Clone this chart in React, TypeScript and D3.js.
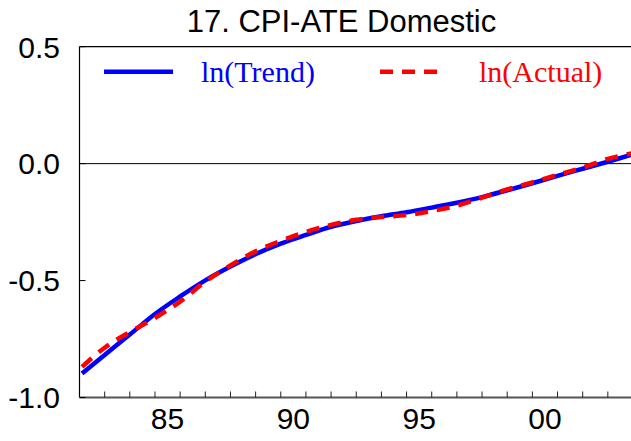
import React from "react";
import * as d3 from "d3";

const title = "17. CPI-ATE Domestic";
const years = [1982.1, 1983, 1984, 1985, 1986, 1987, 1988, 1989, 1990, 1991, 1992, 1993, 1994, 1995, 1996, 1997, 1998, 1999, 2000, 2001, 2002, 2003, 2004];
const trend = [-0.897, -0.818, -0.731, -0.643, -0.568, -0.499, -0.44, -0.387, -0.342, -0.305, -0.27, -0.245, -0.225, -0.208, -0.188, -0.167, -0.143, -0.114, -0.084, -0.052, -0.022, 0.008, 0.04];
const actual = [-0.869, -0.787, -0.72, -0.66, -0.59, -0.505, -0.435, -0.375, -0.33, -0.292, -0.262, -0.24, -0.228, -0.22, -0.203, -0.18, -0.145, -0.11, -0.08, -0.048, -0.017, 0.02, 0.045];
const yTicks = [0.5, 0.0, -0.5, -1.0];
const xLabelYears = [1985, 1990, 1995, 2000];
const xLabels = ["85", "90", "95", "00"];
const legendLabels = ["ln(Trend)", "ln(Actual)"];

const W = 631, H = 441;
const L = 79.5, R = 633, T = 46.7, B = 397.5;

export default function App() {
  const x = d3.scaleLinear().domain([1982, 2004]).range([L, R]);
  const y = d3.scaleLinear().domain([-1, 0.5]).range([B, T]);
  const line = d3.line<number>().x((_, i) => x(years[i])).y((d) => y(d)).curve(d3.curveMonotoneX);
  const tickYears = d3.range(1983, 2004);
  const sans = "'Liberation Sans', Arial, sans-serif";
  const serif = "'Liberation Serif', 'Times New Roman', serif";
  return (
    <svg width={W} height={H} style={{ position: "absolute", left: 0, top: 0, background: "#fff" }}>
      <defs>
        <clipPath id="plot">
          <rect x={L} y={T} width={R - L} height={B - T} />
        </clipPath>
      </defs>
      <text x={341.5} y={31.5} textAnchor="middle" fontFamily={sans} fontSize={31} fill="#000">{title}</text>
      {/* frame */}
      <line x1={L} x2={W} y1={T} y2={T} stroke="#000" strokeWidth={1.2} />
      <line x1={L} x2={L} y1={T} y2={B} stroke="#000" strokeWidth={1.2} />
      <line x1={L} x2={W} y1={B} y2={B} stroke="#555" strokeWidth={1.8} />
      <line x1={L} x2={W} y1={y(0)} y2={y(0)} stroke="#000" strokeWidth={1} />
      {/* y ticks */}
      {yTicks.map((t) => (
        <g key={t}>
          <line x1={L} x2={L + 6} y1={y(t)} y2={y(t)} stroke="#000" strokeWidth={1} />
          <text x={60} y={y(t)} dy="0.36em" textAnchor="end" fontFamily={sans} fontSize={30} fill="#000">{t.toFixed(1)}</text>
        </g>
      ))}
      {/* x ticks */}
      {tickYears.map((t) => (
        <line key={t} x1={x(t)} x2={x(t)} y1={B} y2={B - 6} stroke="#222" strokeWidth={1} />
      ))}
      {xLabelYears.map((t, i) => (
        <text key={t} x={x(t + 0.5)} y={429} textAnchor="middle" fontFamily={sans} fontSize={30} fill="#000">{xLabels[i]}</text>
      ))}
      {/* series */}
      <g clipPath="url(#plot)">
        <path d={line(trend) || ""} fill="none" stroke="#0000ff" strokeWidth={4.5} />
        <path d={line(actual) || ""} fill="none" stroke="#ff0000" strokeWidth={4.5} strokeDasharray="13,9" />
      </g>
      {/* legend */}
      <line x1={104} x2={173} y1={71.7} y2={71.7} stroke="#0000ff" strokeWidth={4.5} />
      <text x={201} y={81.5} fontFamily={serif} fontSize={30} fill="#0000ff">{legendLabels[0]}</text>
      <line x1={380} x2={437} y1={71.7} y2={71.7} stroke="#ff0000" strokeWidth={4.5} strokeDasharray="13,9" />
      <text x={479} y={81.5} fontFamily={serif} fontSize={30} fill="#ff0000">{legendLabels[1]}</text>
    </svg>
  );
}
